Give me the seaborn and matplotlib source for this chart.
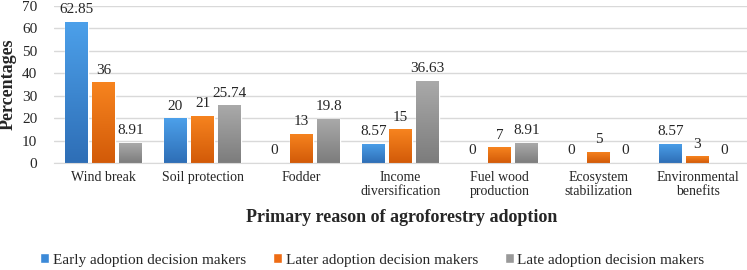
import numpy as np
import pandas as pd
import matplotlib
matplotlib.use("Agg")
import matplotlib.pyplot as plt
from matplotlib.colors import LinearSegmentedColormap
import seaborn as sns

# dados
motivos = ["Wind break", "Soil protection", "Fodder", "Income\ndiversification",
           "Fuel wood\nproduction", "Ecosystem\nstabilization", "Environmental\nbenefits"]
grupos = ["Early adoption decision makers", "Later adoption decision makers",
          "Late adoption decision makers"]
early = [62.85, 20, 0, 8.57, 0, 0, 8.57]
later = [36, 21, 13, 15, 7, 5, 3]
late = [8.91, 25.74, 19.8, 36.63, 8.91, 0, 0]
cores = ["#3C8AD8", "#EE6C14", "#999999"]
# degradê das barras (topo, base)
degrade = [("#4CA0EA", "#2E6EB6"), ("#F7841F", "#D25A08"), ("#AAAAAA", "#7C7C7C")]

df = pd.DataFrame({"motivo": motivos * 3,
                   "grupo": np.repeat(grupos, len(motivos)),
                   "valor": early + later + late})

sns.set_style("white")
plt.rcParams["font.family"] = ["Liberation Serif", "DejaVu Serif"]

fig = plt.figure(figsize=(7.47, 2.70), dpi=100)
ax = fig.add_axes([54 / 747, 1 - 163 / 270, 693 / 747, 157 / 270])

sns.barplot(data=df, x="motivo", y="valor", hue="grupo", palette=cores,
            saturation=1, width=0.82, gap=0.18, ax=ax)

# preenchimento em degradê por barra
grad = np.linspace(0, 1, 256).reshape(-1, 1)
for cont, (topo, base) in zip(ax.containers, degrade):
    cmap = LinearSegmentedColormap.from_list("g", [base, topo])
    for barra in cont:
        x0, y0 = barra.get_x(), barra.get_y()
        w, h = barra.get_width(), barra.get_height()
        if h <= 0:
            continue
        img = ax.imshow(grad, cmap=cmap, origin="lower", aspect="auto",
                        extent=[x0, x0 + w, y0, y0 + h], zorder=barra.get_zorder() + 0.1)
        img.set_clip_path(barra)

# rótulos das barras
for cont in ax.containers:
    ax.bar_label(cont, labels=[f"{v:g}" for v in cont.datavalues],
                 padding=4, fontsize=11)

ax.set_ylim(0, 70)
ax.set_yticks(range(0, 71, 10))
ax.set_xlim(-0.5, 6.5)
ax.grid(axis="y", color="#D9D9D9", linewidth=1)
ax.set_axisbelow(True)
for lado in ["top", "right", "left"]:
    ax.spines[lado].set_visible(False)
ax.spines["bottom"].set_color("#D9D9D9")
ax.tick_params(axis="y", length=0, pad=12, labelsize=11)
ax.tick_params(axis="x", length=0, pad=6, labelsize=10)
for lab in ax.get_xticklabels():
    lab.set_linespacing(1.05)

ax.set_ylabel("Percentages", fontsize=13, fontweight="bold", va="center")
ax.yaxis.set_label_coords((8.5 - 54) / 693, 0.5)
ax.set_xlabel("Primary reason of agroforestry adoption", fontsize=13,
              fontweight="bold", va="center")
ax.xaxis.set_label_coords((402 - 54) / 693, -(218 - 163) / 157)

# legenda embaixo
handles, labels = ax.get_legend_handles_labels()
ax.legend_.remove()
fig.legend(handles, labels, loc="center", bbox_to_anchor=(0.4987, 1 - 260 / 270),
           ncol=3, frameon=False, fontsize=11, handlelength=0.55, handleheight=0.55,
           handletextpad=0.25, columnspacing=1.8)

fig.savefig("out.png", dpi=100)
